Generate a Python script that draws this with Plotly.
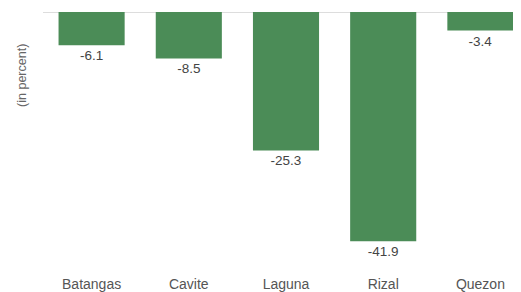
import plotly.graph_objects as go

provinces = ["Batangas", "Cavite", "Laguna", "Rizal", "Quezon"]
values = [-6.1, -8.5, -25.3, -41.9, -3.4]
value_labels = ["-6.1", "-8.5", "-25.3", "-41.9", "-3.4"]
y_title = "(in percent)"

fig = go.Figure(go.Bar(
    x=provinces,
    y=values,
    text=value_labels,
    textposition="outside",
    textfont=dict(family="Liberation Sans, Arial, sans-serif", size=13.5, color="#444444"),
    marker=dict(color="#4b8c57", line=dict(width=0)),
    width=0.68,
    cliponaxis=False,
))

fig.update_layout(
    width=521, height=292,
    margin=dict(l=35, r=0, t=4, b=26),
    paper_bgcolor="white", plot_bgcolor="white",
    showlegend=False,
    font=dict(family="Liberation Sans, Arial, sans-serif", color="#555555"),
    xaxis=dict(
        range=[-0.5, 4.5],
        showgrid=False, showline=False, ticks="",
        tickfont=dict(size=14, color="#555555"),
    ),
    yaxis=dict(
        range=[-47.9, 0],
        showgrid=False, showticklabels=False, ticks="",
        zeroline=True, zerolinecolor="#dddddd", zerolinewidth=1,
    ),
    annotations=[dict(
        text=y_title, xref="paper", yref="paper",
        x=0, y=0.756, xshift=-21, xanchor="center", yanchor="middle",
        textangle=-90, showarrow=False,
        font=dict(size=12.5, color="#666666"),
    )],
)

fig.write_html("out.html")
